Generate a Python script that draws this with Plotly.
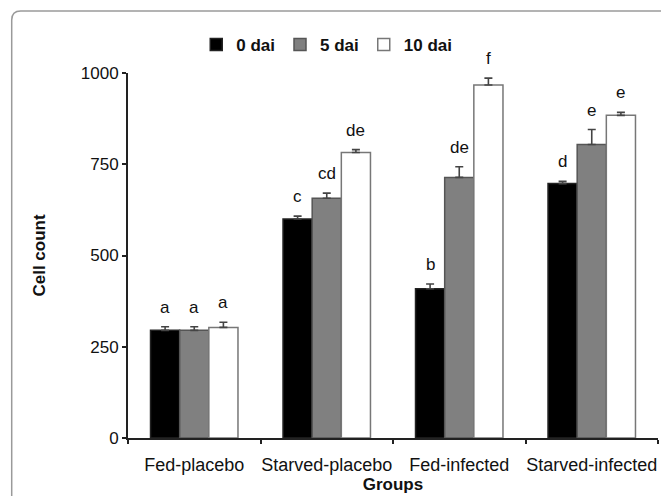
import plotly.graph_objects as go

groups = ["Fed-placebo", "Starved-placebo", "Fed-infected", "Starved-infected"]
series_names = ["0 dai", "5 dai", "10 dai"]
dai0 = [295, 600, 409, 697]
dai5 = [295, 657, 714, 804]
dai10 = [303, 782, 967, 884]
err0 = [10, 8, 13, 6]
err5 = [10, 14, 29, 41]
err10 = [14, 8, 19, 8]
letters0 = ["a", "c", "b", "d"]
letters5 = ["a", "cd", "de", "e"]
letters10 = ["a", "de", "f", "e"]
y_ticks = [0, 250, 500, 750, 1000]

FONT = "Arial, Liberation Sans, sans-serif"
fills = ["#000000", "#808080", "#ffffff"]
edges = ["#222222", "#555555", "#777777"]

fig = go.Figure()
values = [dai0, dai5, dai10]
errs = [err0, err5, err10]
letters = [letters0, letters5, letters10]
for k in range(3):
    fig.add_trace(go.Bar(
        x=groups, y=values[k], name=series_names[k],
        marker=dict(color=fills[k], line=dict(color=edges[k], width=1.5)),
        error_y=dict(type="data", array=errs[k], arrayminus=[0] * 4, symmetric=False,
                     color="#444444", thickness=1.6, width=4),
    ))

offsets = [-0.22, 0.0, 0.22]
for k in range(3):
    for i in range(4):
        fig.add_annotation(
            x=i + offsets[k], y=values[k][i] + errs[k][i], xref="x", yref="y",
            text=letters[k][i], showarrow=False, yanchor="bottom", yshift=8,
            font=dict(family=FONT, size=17, color="#111111"),
        )

# figure frame (rounded corner of the outer panel)
W, H = 530.0, 365.0
x0 = (11.7 - 128) / W
y1 = (438 - 11) / H
r = 9.0
dx, dy = r / W, r / H
fig.add_shape(
    type="path", xref="paper", yref="paper",
    path=f"M {x0},-0.3 L {x0},{y1 - dy} Q {x0},{y1} {x0 + dx},{y1} L 1.2,{y1}",
    line=dict(color="#9a9a9a", width=1.5), layer="below",
)

fig.update_layout(
    width=669, height=496,
    margin=dict(l=120, r=19, t=65, b=66),
    paper_bgcolor="white", plot_bgcolor="white",
    barmode="group", bargap=0.34, bargroupgap=0.0,
    font=dict(family=FONT, color="#111111"),
    showlegend=True,
    legend=dict(orientation="h", x=0.375, xanchor="center", y=1.077, yanchor="middle",
                font=dict(family=FONT, size=17, color="#111111", weight="bold"),
                itemwidth=30, tracegroupgap=0),
    xaxis=dict(
        showline=True, linecolor="#222222", linewidth=2, automargin=False,
        ticks="outside", tickson="boundaries", ticklen=4, tickcolor="#222222", tickwidth=2,
        tickangle=0, ticklabelstandoff=9,
        tickfont=dict(family=FONT, size=18, color="#111111"),
        title=dict(text="Groups", font=dict(family=FONT, size=17, color="#111111", weight="bold"),
                   standoff=4),
        showgrid=False, zeroline=False,
    ),
    yaxis=dict(
        range=[0, 1000], tickvals=y_ticks, automargin=False,
        showline=True, linecolor="#222222", linewidth=2,
        ticks="outside", ticklen=4, tickcolor="#222222", tickwidth=2,
        tickfont=dict(family=FONT, size=17, color="#111111"),
        title=dict(text="Cell count", font=dict(family=FONT, size=17, color="#111111", weight="bold"),
                   standoff=31),
        showgrid=False, zeroline=False,
    ),
)

fig.write_html("out.html")
